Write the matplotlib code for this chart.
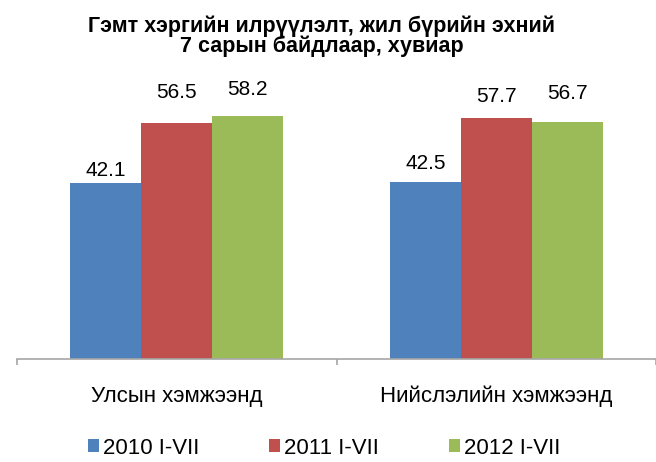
import numpy as np
import matplotlib.pyplot as plt

plt.rcParams['font.family'] = ['Liberation Sans', 'DejaVu Sans']

categories = ['Улсын хэмжээнд', 'Нийслэлийн хэмжээнд']
series = ['2010 I-VII', '2011 I-VII', '2012 I-VII']
values = [
    [42.1, 42.5],
    [56.5, 57.7],
    [58.2, 56.7],
]
colors = ['#4F81BD', '#C0504D', '#9BBB59']
title_lines = ['Гэмт хэргийн илрүүлэлт, жил бүрийн эхний',
               '7 сарын байдлаар, хувиар']
# label gaps above bars (points), the labels were nudged by hand in the original
label_gap = [
    [5, 9],
    [18, 12],
    [15.5, 17],
]

fig = plt.figure(figsize=(6.56, 4.62), dpi=100)
ax = fig.add_axes([17 / 656, 103 / 462, 639 / 656, 292 / 462])

x = np.arange(len(categories))
w = 1 / 4.5
for i, (name, vals) in enumerate(zip(series, values)):
    bars = ax.bar(x + (i - 1) * w, vals, width=w, color=colors[i], label=name)
    for b, v, g in zip(bars, vals, label_gap[i]):
        ax.annotate(f'{v:.1f}', (b.get_x() + b.get_width() / 2, v),
                    xytext=(0, g), textcoords='offset points',
                    ha='center', va='baseline', fontsize=15)

ax.set_xlim(-0.5, len(categories) - 0.5)
ax.set_ylim(0, 70)
ax.set_yticks([])
for s in ['top', 'right', 'left']:
    ax.spines[s].set_visible(False)
ax.spines['bottom'].set_color('#A6A6A6')
ax.spines['bottom'].set_linewidth(1.2)
ax.set_xticks(np.arange(-0.5, len(categories), 1.0))
ax.set_xticklabels([])
ax.tick_params(axis='x', length=4.5, width=1.2, color='#A6A6A6', direction='out')
for xi, c in zip(x, categories):
    ax.annotate(c, (xi, 0), xytext=(0, -31), textcoords='offset points',
                ha='center', va='baseline', fontsize=16)

for k, line in enumerate(title_lines):
    fig.text(0.49, (462 - 32 - 20 * k) / 462, line, ha='center', va='baseline',
             fontsize=15.5, fontweight='bold')

fig.legend(loc='center', bbox_to_anchor=(0.494, 0.03), ncol=3, frameon=False,
           fontsize=16, handlelength=0.5, handleheight=0.5, handletextpad=0.18,
           columnspacing=3.15)

plt.savefig('out.png', dpi=100)
